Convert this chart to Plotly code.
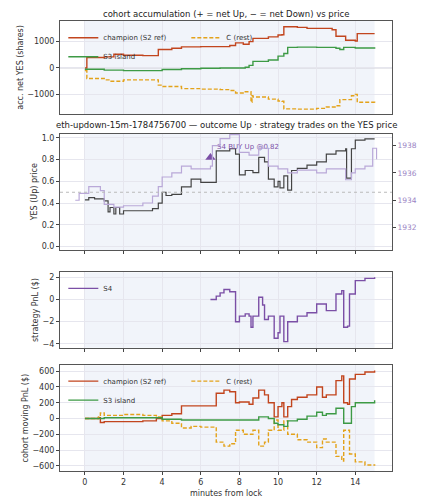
import plotly.graph_objects as go

# ---- data ----
acc_champ_t = [0,0.1,1,1.5,2,3,3.7,3.8,4.5,5,6,7,7.5,7.8,8.2,8.5,8.7,9.5,10,10.2,10.3,11,11.5,12,12.8,13,13.5,14,14.1,15]
acc_champ_v = [0,400,420,520,480,470,470,700,750,800,810,810,850,950,900,1000,1120,1180,1250,1260,1560,1540,1500,1500,1450,1200,1050,1020,1300,1300]
acc_s3_t = [0,1,2,3.7,4,5,6,7,7.5,8.3,8.5,8.7,9.5,10,10.3,10.5,11,12,13,13.2,13.4,14,15]
acc_s3_v = [-50,-80,-100,-100,-60,-30,-10,0,0,30,100,250,300,450,550,780,790,780,750,700,780,760,790]
acc_c_t = [0,0.1,1,1.3,2,3.7,3.8,4,5,6,7,7.5,7.8,8.3,8.6,8.65,8.7,9.5,10,10.2,10.3,11,12,12.5,13,13.2,13.8,14,14.1,15]
acc_c_v = [-100,-400,-450,-500,-450,-450,-650,-700,-780,-800,-820,-850,-950,-900,-1300,-1050,-1100,-1180,-1250,-1260,-1550,-1560,-1530,-1480,-1430,-1200,-1050,-1000,-1300,-1320]

yes_t = [0,0.2,0.5,1,1.2,1.3,1.5,1.6,1.8,2,2.2,3,3.5,3.8,4,4.2,4.5,5,5.5,6,6.7,6.8,7.5,7.8,8,8.3,8.7,9,9.3,9.5,9.8,10,10.1,10.3,10.5,10.7,11,11.5,12,12.5,13,13.5,13.55,13.8,14,14.5,15]
yes_v = [0.43,0.45,0.44,0.42,0.32,0.36,0.30,0.36,0.30,0.33,0.33,0.33,0.35,0.40,0.50,0.47,0.48,0.55,0.62,0.59,0.59,0.88,0.90,0.85,0.66,0.70,0.68,0.82,0.78,0.62,0.55,0.60,0.54,0.65,0.52,0.70,0.72,0.75,0.78,0.85,0.88,0.90,0.63,0.90,0.98,0.99,0.99]
eth_t = [-0.5,-0.3,0.2,0.8,1,1.5,2,3,3.5,3.8,4,4.5,5,5.5,6,6.5,6.6,7,7.5,8,8.5,9,9.5,10,10.5,11,12,12.5,13,13.5,13.8,14,14.5,14.9,15.1]
eth_v = [1934.0,1934.5,1935.0,1934.7,1933.7,1933.5,1933.6,1933.8,1934.3,1935.0,1935.7,1936.0,1936.5,1936.3,1936.3,1936.5,1938.0,1938.5,1938.8,1937.5,1937.3,1937.8,1936.5,1936.3,1936.0,1936.2,1936.0,1936.3,1936.3,1935.5,1936.0,1936.3,1936.5,1937.8,1937.0]
buy_t = [6.5]
buy_v = [0.82]
buy_label = ["S4 BUY Up @0.82"]

s4_t = [6.5,6.8,7,7.2,7.5,7.8,8,8.3,8.5,8.6,8.7,9,9.2,9.3,9.5,9.8,10,10.1,10.3,10.5,11,11.5,12,12.5,13,13.3,13.4,13.6,13.7,14,14.5,15]
s4_v = [0,0.3,0.6,0.9,0.7,-2,-1.5,-1.3,-1.5,-2.5,-1.5,0.2,-0.5,-1.8,-1.5,-3.5,-3,-1.5,-3.8,-2.0,-1.5,-1.2,-0.4,-1.0,0.5,0.8,-2.5,-2.4,0.5,1.7,1.9,2.0]

pnl_champ_t = [0,0.7,0.8,1,2,3,3.7,4,4.5,5,6.7,6.8,7.2,7.5,7.8,8,8.5,8.7,9,9.3,9.5,9.8,10,10.2,10.3,10.5,10.7,11,11.5,12,12.3,12.5,13,13.3,13.4,13.6,13.7,14,14.5,15]
pnl_champ_v = [0,10,-50,-40,-40,-30,0,40,60,160,160,320,360,340,200,210,180,260,360,300,200,20,150,200,20,150,240,270,300,400,270,300,480,540,200,180,500,560,590,610]
pnl_s3_t = [0,1,3,4,5,7,8.5,9,9.5,9.8,10,10.3,10.5,11,11.5,12,12.3,12.5,13,13.4,13.7,13.8,14,15]
pnl_s3_v = [0,10,10,-10,-20,-20,-20,20,0,-60,-80,-100,-30,-10,30,80,40,60,130,-60,-60,150,200,230]
pnl_c_t = [0,0.7,0.8,1,2,3,3.7,4,4.5,5,5.5,6,6.7,6.8,7.2,7.5,7.8,8.2,8.7,9,9.3,9.5,9.8,10,10.3,10.5,11,11.5,12,12.3,12.5,13,13.3,13.4,13.6,13.7,14,14.5,15]
pnl_c_v = [0,20,70,40,50,40,20,-30,-60,-120,-100,-110,-110,-300,-350,-320,-150,-200,-150,-350,-300,-150,-20,-150,-30,-200,-270,-300,-370,-260,-300,-480,-540,-150,-150,-450,-550,-590,-600]

RED = "#c2451e"; GRN = "#3d9a45"; ORG = "#e3a21a"; PUR = "#7b4fa6"; LPUR = "#b9a8d8"
DASH = "4px,2px"

fig = go.Figure()
def line(t, v, name, color, xa, ya, dash=None, legend="legend", show=True, width=1.4, shape="hv"):
    fig.add_trace(go.Scatter(x=t, y=v, name=name, mode="lines", line=dict(color=color, width=width, dash=dash, shape=shape),
                             xaxis=xa, yaxis=ya, legend=legend, showlegend=show))

line(acc_champ_t, acc_champ_v, "champion (S2 ref)", RED, "x", "y")
line(acc_c_t, acc_c_v, "C (rest)", ORG, "x", "y", dash=DASH)
line(acc_s3_t, acc_s3_v, "S3 island", GRN, "x", "y")

line(eth_t, eth_v, "ETH", LPUR, "x2", "y5", show=False, width=1.2)
line(yes_t, yes_v, "YES", "#444444", "x2", "y2", show=False, width=1.2)
fig.add_trace(go.Scatter(x=buy_t, y=buy_v, mode="markers+text", text=buy_label, textposition="top right",
                         textfont=dict(color=PUR, size=7, family="DejaVu Sans"),
                         marker=dict(symbol="triangle-up", size=9, color=PUR), xaxis="x2", yaxis="y2", showlegend=False))

line(s4_t, s4_v, "S4", PUR, "x3", "y3", legend="legend2")

line(pnl_champ_t, pnl_champ_v, "champion (S2 ref)", RED, "x4", "y4", legend="legend3")
line(pnl_c_t, pnl_c_v, "C (rest)", ORG, "x4", "y4", dash=DASH, legend="legend3")
line(pnl_s3_t, pnl_s3_v, "S3 island", GRN, "x4", "y4", legend="legend3")

F = dict(family="DejaVu Sans", size=8, color="#333")
ax = dict(range=[-1.29, 15.9], tickvals=[0,2,4,6,8,10,12,14], showgrid=True, gridcolor="#e6e6ee",
          zeroline=False, showline=True, mirror=True, linecolor="#555", linewidth=1, ticks="outside",
          ticklen=3, tickfont=F)
doms = [[0.7935, 1], [0.4913, 0.75], [0.2739, 0.4413], [0, 0.2348]]
lay = dict(width=425, height=500, margin=dict(l=42, r=35, t=13, b=27), plot_bgcolor="white",
           paper_bgcolor="white", font=F)
for i in range(4):
    k = "" if i == 0 else str(i + 1)
    xa = dict(ax, anchor="y" + k, showticklabels=(i == 3))
    if i > 0: xa["matches"] = "x"
    if i == 0: xa["ticks"] = ""
    lay["xaxis" + k] = xa
yax = dict(showgrid=True, gridcolor="#e6e6ee", zeroline=False, showline=True, mirror=True, linecolor="#555",
           ticks="outside", ticklen=3, tickfont=F)
lay["yaxis"] = dict(yax, domain=doms[0], anchor="x", range=[-1740, 1780], tickvals=[-1000, 0, 1000],
                    title=dict(text="acc. net YES (shares)", font=F, standoff=2))
lay["yaxis2"] = dict(yax, domain=doms[1], anchor="x2", range=[-0.03, 1.04], tickvals=[0, .2, .4, .6, .8, 1],
                     tickformat=".1f", title=dict(text="YES (Up) price", font=F, standoff=2))
lay["yaxis5"] = dict(overlaying="y2", side="right", anchor="x2", range=[1930.37, 1938.88], showgrid=False,
                     tickvals=[1932, 1934, 1936, 1938], ticks="outside", ticklen=3,
                     tickfont=dict(family="DejaVu Sans", size=7.5, color="#9a84c4"), zeroline=False,
                     title=dict(text="ETH/USD (strike dotted = YES 0.5)", font=dict(family="DejaVu Sans", size=6.5, color="#9a84c4"), standoff=0))
lay["yaxis3"] = dict(yax, domain=doms[2], anchor="x3", range=[-4.35, 2.44], tickvals=[-4, -2, 0, 2],
                     title=dict(text="strategy PnL ($)", font=F, standoff=2))
lay["yaxis4"] = dict(yax, domain=doms[3], anchor="x4", range=[-666, 674], tickvals=[-600,-400,-200,0,200,400,600],
                     title=dict(text="cohort moving PnL ($)", font=F, standoff=2))
lay["xaxis4"]["title"] = dict(text="minutes from lock", font=F, standoff=4)
leg = dict(bgcolor="rgba(0,0,0,0)", font=dict(family="DejaVu Sans", size=7, color="#333"),
           orientation="h", xanchor="left", yanchor="top", entrywidth=78, entrywidthmode="pixels",
           tracegroupgap=0, itemwidth=30)
lay["legend"] = dict(leg, x=0.01, y=0.995)
lay["legend2"] = dict(leg, x=0.01, y=0.438)
lay["legend3"] = dict(leg, x=0.01, y=0.232)
fig.update_layout(**lay)

shapes = []
for i, k in enumerate(["", "2", "3", "4"]):
    shapes.append(dict(type="rect", xref="x" + k, yref="y" + k + " domain", x0=0, x1=15, y0=0, y1=1,
                       fillcolor="rgba(225,230,245,0.45)", line_width=0, layer="below"))
    if k != "2":
        shapes.append(dict(type="line", xref="x" + k + " domain", yref="y" + k, x0=0, x1=1, y0=0, y1=0,
                           line=dict(color="#cfcfd8", width=1), layer="below"))
shapes.append(dict(type="line", xref="x2 domain", yref="y2", x0=0, x1=1, y0=0.5, y1=0.5,
                   line=dict(color="#bbbbbb", width=1, dash="dot")))
fig.update_layout(shapes=shapes)
T = dict(family="DejaVu Sans", size=8.5, color="#222")
fig.add_annotation(text="cohort accumulation (+ = net Up, − = net Down) vs price", xref="paper", yref="paper",
                   x=0.5, y=1.0, yshift=0, yanchor="bottom", showarrow=False, font=T)
fig.add_annotation(text="eth-updown-15m-1784756700 — outcome Up · strategy trades on the YES price", xref="paper",
                   yref="paper", x=0.5, y=0.75, yshift=1, yanchor="bottom", showarrow=False, font=T)
fig.write_html("out.html")
